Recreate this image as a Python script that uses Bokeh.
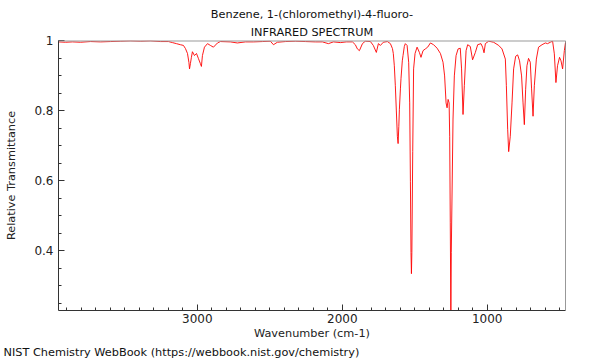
from bokeh.plotting import figure
from bokeh.models import Range1d, FixedTicker, CustomJSTickFormatter, Title, Span
from bokeh.embed import file_html
from bokeh.resources import INLINE

# ---- data ----
wavenumber = [3958, 3910, 3861, 3806, 3737, 3668, 3599, 3530, 3461, 3392, 3323, 3255, 3199,
              3172, 3144, 3117, 3096, 3082, 3068, 3058, 3054, 3048, 3041, 3034, 3020, 3006,
              2992, 2979, 2972, 2965, 2951, 2930, 2910, 2889, 2861, 2841, 2772, 2724, 2668,
              2613, 2551, 2496, 2475, 2448, 2392, 2323, 2254, 2186, 2137, 2096, 2061, 2013,
              1972, 1930, 1910, 1896, 1882, 1861, 1841, 1806, 1786, 1765, 1751, 1737, 1717,
              1689, 1668, 1654, 1648, 1641, 1634, 1627, 1620, 1615, 1610, 1606, 1599, 1595,
              1586, 1581, 1572, 1565, 1553, 1542, 1535, 1530, 1526, 1523, 1520, 1514, 1508,
              1498, 1484, 1468, 1457, 1443, 1427, 1411, 1392, 1370, 1346, 1323, 1305, 1294,
              1284, 1277, 1270, 1263, 1259, 1255, 1251, 1248, 1236, 1227, 1215, 1201, 1186,
              1177, 1167, 1158, 1146, 1135, 1117, 1101, 1082, 1066, 1043, 1032, 1022, 1013,
              990, 956, 921, 898, 875, 868, 859, 852, 841, 829, 818, 804, 790, 777, 763, 753,
              744, 735, 726, 715, 703, 694, 684, 675, 661, 646, 622, 599, 584, 565, 549, 537,
              526, 515, 501, 491, 480, 468, 460]
transmittance = [0.996, 0.995, 0.996, 0.995, 0.997, 0.996, 0.997, 0.998, 0.999, 0.998, 0.999,
                 0.997, 0.997, 0.994, 0.991, 0.988, 0.986, 0.977, 0.963, 0.937, 0.919, 0.934,
                 0.952, 0.968, 0.957, 0.963, 0.948, 0.934, 0.926, 0.957, 0.981, 0.991, 0.986,
                 0.981, 0.993, 0.997, 0.996, 0.993, 0.996, 0.996, 0.997, 0.998, 0.988, 0.995,
                 0.997, 0.998, 0.997, 0.996, 0.996, 0.991, 0.996, 0.994, 0.996, 0.996, 0.988,
                 0.976, 0.971, 0.991, 0.998, 0.997, 0.986, 0.966, 0.991, 0.986, 0.995, 0.997,
                 0.991, 0.977, 0.963, 0.928, 0.871, 0.799, 0.727, 0.706, 0.755, 0.804, 0.862,
                 0.891, 0.942, 0.957, 0.983, 0.991, 0.986, 0.938, 0.822, 0.597, 0.396, 0.335,
                 0.396, 0.683, 0.919, 0.963, 0.981, 0.966, 0.952, 0.971, 0.976, 0.981, 0.993,
                 0.988, 0.978, 0.963, 0.938, 0.899, 0.822, 0.808, 0.832, 0.822, 0.727, 0.482,
                 0.215, 0.396, 0.776, 0.899, 0.957, 0.976, 0.978, 0.919, 0.789, 0.871, 0.971,
                 0.988, 0.983, 0.945, 0.966, 0.988, 0.991, 0.981, 0.965, 0.991, 0.998, 0.995,
                 0.986, 0.976, 0.947, 0.871, 0.747, 0.683, 0.727, 0.822, 0.919, 0.955, 0.959,
                 0.942, 0.899, 0.822, 0.760, 0.861, 0.928, 0.949, 0.938, 0.862, 0.784, 0.871,
                 0.947, 0.981, 0.988, 0.993, 0.991, 0.995, 0.998, 0.962, 0.880, 0.928, 0.952,
                 0.942, 0.919, 0.971, 0.994]

x_major_ticks = [1000, 2000, 3000]
x_minor_ticks = list(range(500, 4000, 100))
y_major_ticks = [0.4, 0.6, 0.8, 1.0]
y_minor_ticks = [0.25, 0.3, 0.35, 0.45, 0.5, 0.55, 0.65, 0.7, 0.75, 0.85, 0.9, 0.95]

title_line1 = "Benzene, 1-(chloromethyl)-4-fluoro-"
title_line2 = "INFRARED SPECTRUM"
x_label = "Wavenumber (cm-1)"
y_label = "Relative Transmittance"
credit = "NIST Chemistry WebBook (https://webbook.nist.gov/chemistry)"

FONT = "DejaVu Sans"
TXT = "11.3px"
X_LO, X_HI = 3958, 460

p = figure(width=600, height=360, output_backend="svg", toolbar_location=None,
           x_range=Range1d(X_LO, X_HI), y_range=Range1d(0.23, 1.0),
           min_border_left=58, min_border_right=35, min_border_top=40, min_border_bottom=0)
p.xgrid.visible = False
p.ygrid.visible = False
p.outline_line_color = None
p.background_fill_color = "white"
p.border_fill_color = "white"

p.line(wavenumber, transmittance, line_color="#ff0000", line_width=0.9)

p.add_layout(Span(location=1.0, dimension="width", line_color="#999999", line_width=2))
p.add_layout(Span(location=X_HI, dimension="height", line_color="#333333", line_width=1))

for ax in (p.xaxis[0], p.yaxis[0]):
    ax.axis_line_color = "#333333"
    ax.major_tick_in = 6
    ax.major_tick_out = 0
    ax.minor_tick_in = 3
    ax.minor_tick_out = 0
    ax.major_tick_line_color = "#333333"
    ax.minor_tick_line_color = "#333333"
    ax.major_label_text_font = FONT
    ax.major_label_text_font_size = "12px"
    ax.major_label_text_color = "#222222"
    ax.axis_label_text_font = FONT
    ax.axis_label_text_font_size = TXT
    ax.axis_label_text_font_style = "normal"
    ax.axis_label_text_color = "#222222"

p.xaxis[0].ticker = FixedTicker(ticks=x_major_ticks, minor_ticks=x_minor_ticks)
p.yaxis[0].ticker = FixedTicker(ticks=y_major_ticks, minor_ticks=y_minor_ticks)
p.yaxis[0].formatter = CustomJSTickFormatter(
    code="return Math.abs(tick - 1) < 1e-9 ? '1' : tick.toFixed(1);")
p.xaxis[0].axis_label = x_label
p.yaxis[0].axis_label = y_label
p.xaxis[0].major_label_standoff = 3
p.xaxis[0].axis_label_standoff = 1
p.yaxis[0].major_label_standoff = 5
p.yaxis[0].axis_label_standoff = 13

p.title.text = title_line1
p.title.align = "center"
p.title.text_font = FONT
p.title.text_font_size = TXT
p.title.text_font_style = "normal"
p.title.text_color = "#111111"
p.title.standoff = 1
p.add_layout(Title(text=title_line2, align="center", text_font=FONT, text_font_size=TXT,
                   text_font_style="normal", text_color="#111111", standoff=4), "above")
p.add_layout(Title(text=credit, align="left", offset=-55, text_font=FONT, text_font_size=TXT,
                   text_font_style="normal", text_color="#111111", standoff=3), "below")

open("out.html", "w").write(file_html(p, INLINE))
